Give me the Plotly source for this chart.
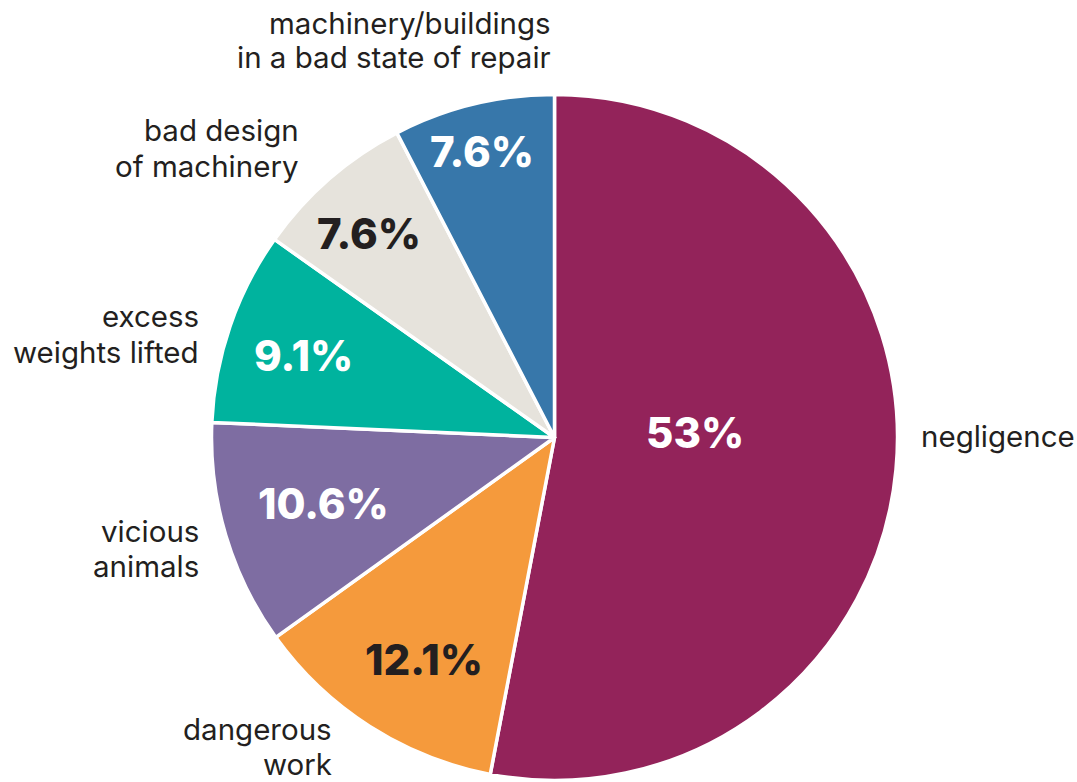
import math
import plotly.graph_objects as go

W, H = 1077, 782

labels = ["negligence", "dangerous work", "vicious animals", "excess weights lifted",
          "bad design of machinery", "machinery/buildings in a bad state of repair"]
values = [53, 12.1, 10.6, 9.1, 7.6, 7.6]
pct_text = ["53%", "12.1%", "10.6%", "9.1%", "7.6%", "7.6%"]
label_lines = [["negligence"], ["dangerous", "work"], ["vicious", "animals"],
               ["excess", "weights lifted"], ["bad design", "of machinery"],
               ["machinery/buildings", "in a bad state of repair"]]

colors = ["#93235a", "#f59a3c", "#7e6da2", "#00b39e", "#e6e3dc", "#3777aa"]
pct_colors = ["white", "#231f20", "white", "white", "#231f20", "white"]
# radial position of percentage text (fraction of radius) and angular offset (deg)
pct_r = [0.41, 0.75, 0.70, 0.77, 0.805, 0.86]
pct_dang = [-7.6, -2.2, 0.7, -0.9, -1.2, -0.6]
# outside label placement (pixels): x, center y, anchor
label_pos = [(919, 436, "left"), (334, 746, "right"), (201, 548, "right"),
             (201, 334, "right"), (301, 148, "right"), (553, 40, "right")]
LINE_GAP = 35

cx, cy, R = 554.5, 437.5, 343
top, bottom = cy - R, cy + R
left, right = cx - R, cx + R

fig = go.Figure(go.Pie(
    labels=labels, values=values, sort=False, direction="clockwise", rotation=0,
    marker=dict(colors=colors, line=dict(color="white", width=3.5)),
    textinfo="none", hoverinfo="label+percent", showlegend=False,
    domain=dict(x=[left / W, right / W], y=[1 - bottom / H, 1 - top / H]),
))

total = sum(values)
cum = 0
annotations = []
for v, t, c, rf, da in zip(values, pct_text, pct_colors, pct_r, pct_dang):
    mid = (cum + v / 2) / total * 2 * math.pi + math.radians(da)
    cum += v
    px = cx + rf * R * math.sin(mid)
    py = cy - rf * R * math.cos(mid)
    annotations.append(dict(x=px / W, y=1 - py / H, xref="paper", yref="paper",
                            text=t, showarrow=False, xanchor="center", yanchor="middle",
                            font=dict(family="Inter", size=42, color=c, weight=800)))
for lines, (lx, ly, anc) in zip(label_lines, label_pos):
    n = len(lines)
    for i, line in enumerate(lines):
        y = ly + (i - (n - 1) / 2) * LINE_GAP
        annotations.append(dict(x=lx / W, y=1 - y / H, xref="paper", yref="paper",
                                text=line, showarrow=False, xanchor=anc, yanchor="middle",
                                font=dict(family="Inter", size=29.5, color="#231f20")))

fig.update_layout(width=W, height=H, margin=dict(l=0, r=0, t=0, b=0),
                  paper_bgcolor="white", plot_bgcolor="white",
                  annotations=annotations)
fig.write_html("out.html")
